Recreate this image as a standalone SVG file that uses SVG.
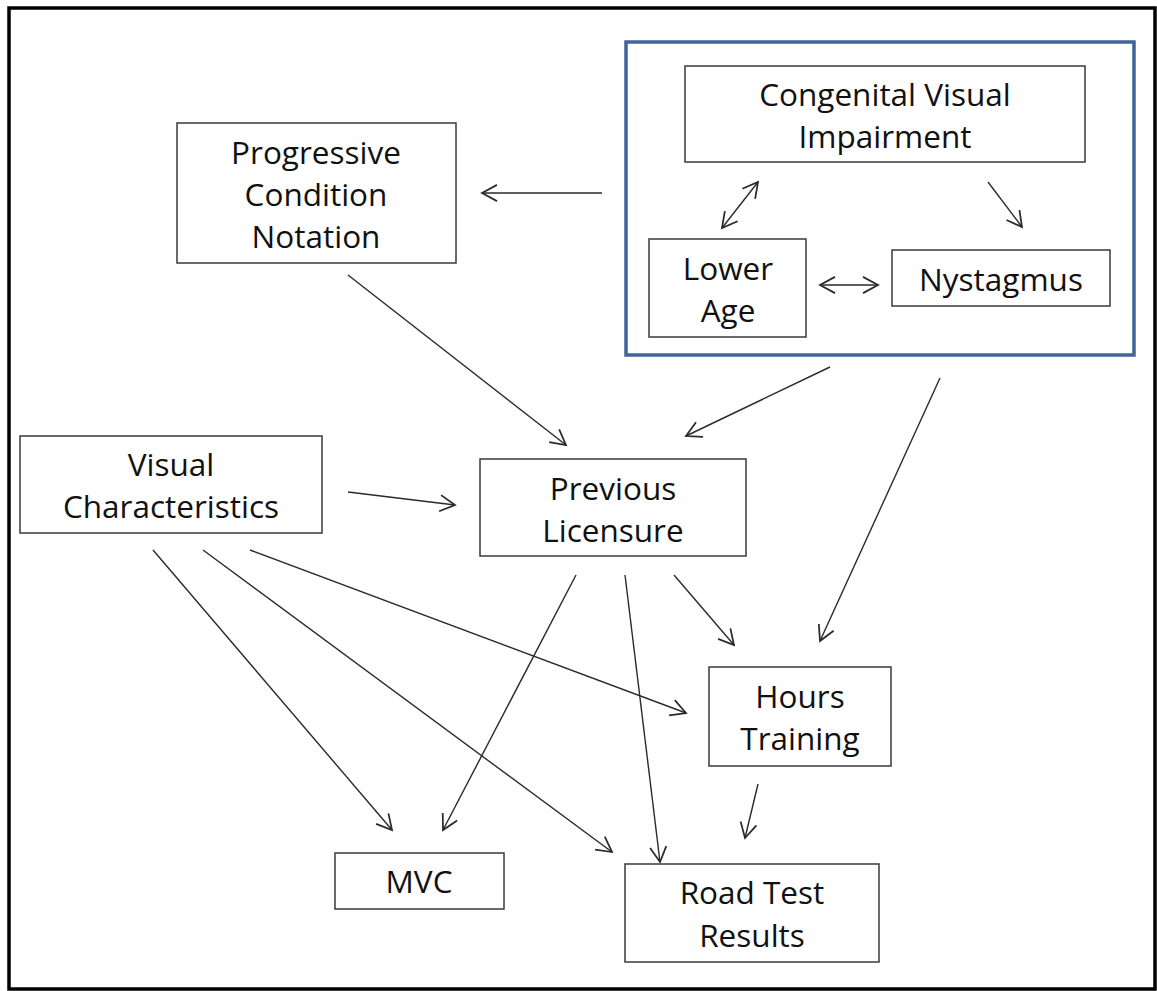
<svg xmlns="http://www.w3.org/2000/svg" width="1157" height="991" viewBox="0 0 1157 991">
<style>
.box{fill:#fff;stroke:#3a3a3a;stroke-width:1.5}
.t{font-family:"Open Sans",Lato,sans-serif;font-size:31.5px;fill:#111;text-anchor:middle;font-variant-ligatures:none}
.c{fill:none;stroke:#2a2a2a;stroke-width:1.4}
</style>
<defs>
<marker id="a" markerUnits="userSpaceOnUse" markerWidth="20" markerHeight="20" viewBox="-14 -8 16 16" refX="0" refY="0" orient="auto-start-reverse">
<path d="M-12,-6.5 L0,0 L-12,6.5" fill="none" stroke="#2a2a2a" stroke-width="1.4"/>
</marker>
</defs>
<rect width="1157" height="991" fill="#fff"/>
<rect x="9" y="8" width="1146" height="981" fill="none" stroke="#000" stroke-width="3.5"/>
<g id="group-box"><rect x="626" y="42" width="508" height="313" fill="none" stroke="#41649a" stroke-width="3.5"/></g>
<g id="n-progressive"><rect class="box" x="177" y="123" width="279" height="140"/><text class="t" x="316" y="164">Progressive</text><text class="t" x="316" y="206">Condition</text><text class="t" x="316" y="248">Notation</text></g>
<g id="n-cvi"><rect class="box" x="685" y="66" width="400" height="96"/><text class="t" x="885" y="106">Congenital Visual</text><text class="t" x="885" y="148">Impairment</text></g>
<g id="n-age"><rect class="box" x="649" y="239" width="157" height="98"/><text class="t" x="728" y="280">Lower</text><text class="t" x="728" y="322">Age</text></g>
<g id="n-nyst"><rect class="box" x="892" y="250" width="218" height="56"/><text class="t" x="1001" y="291">Nystagmus</text></g>
<g id="n-visual"><rect class="box" x="20" y="436" width="302" height="97"/><text class="t" x="171" y="476">Visual</text><text class="t" x="171" y="518">Characteristics</text></g>
<g id="n-licensure"><rect class="box" x="480" y="459" width="266" height="97"/><text class="t" x="613" y="500">Previous</text><text class="t" x="613" y="542">Licensure</text></g>
<g id="n-hours"><rect class="box" x="709" y="667" width="182" height="99"/><text class="t" x="800" y="708">Hours</text><text class="t" x="800" y="750">Training</text></g>
<g id="n-mvc"><rect class="box" x="335" y="853" width="169" height="56"/><text class="t" x="419" y="893">MVC</text></g>
<g id="n-road"><rect class="box" x="625" y="864" width="254" height="98"/><text class="t" x="752" y="904">Road Test</text><text class="t" x="752" y="947">Results</text></g>
<g id="connectors">
<line class="c" x1="602" y1="193" x2="482" y2="193" marker-end="url(#a)"/>
<line class="c" x1="722" y1="228" x2="758" y2="182" marker-start="url(#a)" marker-end="url(#a)"/>
<line class="c" x1="988" y1="182" x2="1022" y2="227" marker-end="url(#a)"/>
<line class="c" x1="820" y1="285" x2="878" y2="285" marker-start="url(#a)" marker-end="url(#a)"/>
<line class="c" x1="830" y1="367" x2="686" y2="436" marker-end="url(#a)"/>
<line class="c" x1="940" y1="378" x2="820" y2="641" marker-end="url(#a)"/>
<line class="c" x1="348" y1="275" x2="566" y2="445" marker-end="url(#a)"/>
<line class="c" x1="348" y1="492" x2="455" y2="505" marker-end="url(#a)"/>
<line class="c" x1="153" y1="550" x2="392" y2="830" marker-end="url(#a)"/>
<line class="c" x1="203" y1="550" x2="612" y2="852" marker-end="url(#a)"/>
<line class="c" x1="250" y1="550" x2="686" y2="713" marker-end="url(#a)"/>
<line class="c" x1="576" y1="575" x2="443" y2="830" marker-end="url(#a)"/>
<line class="c" x1="625" y1="575" x2="660" y2="862" marker-end="url(#a)"/>
<line class="c" x1="674" y1="575" x2="734" y2="645" marker-end="url(#a)"/>
<line class="c" x1="758" y1="784" x2="745" y2="838" marker-end="url(#a)"/>
</g>
</svg>
